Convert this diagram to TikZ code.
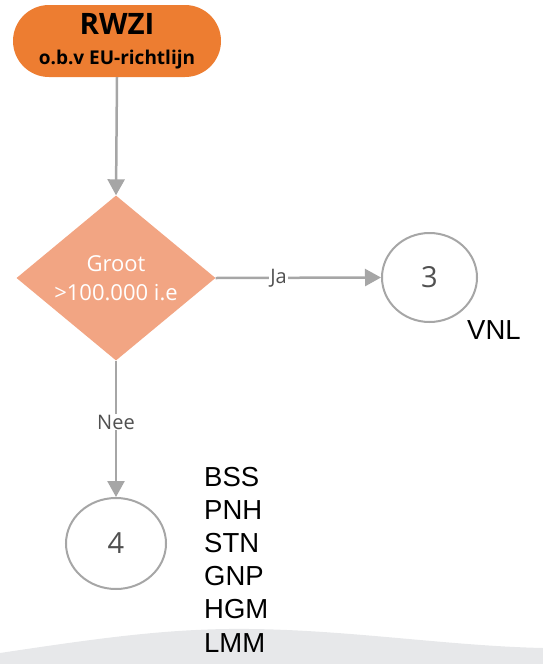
\documentclass[tikz,border=0pt]{standalone}
\usepackage{fontspec}
\setmainfont{Open Sans}
\newfontfamily\arialf{Liberation Sans}
\usetikzlibrary{shapes.geometric,arrows.meta}
\definecolor{pillorange}{HTML}{ED7D31}
\definecolor{salmon}{HTML}{F2A583}
\definecolor{linegray}{HTML}{A6A6A6}
\definecolor{darktext}{HTML}{505050}
\definecolor{wavegray}{HTML}{E7E8EA}
\tikzset{
  pill/.style={draw=none, fill=pillorange, rounded corners=36pt, minimum width=208pt, minimum height=72pt, inner sep=0pt, align=center, font=\bfseries\fontsize{19}{30}\selectfont},
  decision/.style={diamond, fill=salmon, draw=none, minimum width=199pt, minimum height=165pt, inner sep=0pt, aspect=1.206, align=center, text=white, font=\fontsize{22}{29}\selectfont},
  endcircle/.style={ellipse, draw=linegray, line width=2pt, fill=white, text=darktext, font=\fontsize{29}{32}\selectfont},
  flow/.style={draw=linegray, line width=2.5pt, -{Triangle[width=17pt,length=16pt]}},
  edgelabel/.style={fill=white, text=darktext, inner sep=1pt, font=\fontsize{20}{24}\selectfont},
  listtxt/.style={font=\arialf\fontsize{27.5}{32}\selectfont, inner sep=0pt, text=black}
}
\begin{document}
\begin{tikzpicture}[x=1pt,y=-1pt]
\useasboundingbox (0,0) rectangle (543,664);
\fill[wavegray] (0,653) .. controls (100,638) and (170,628) .. (250,629) .. controls (350,630) and (450,646) .. (543,648) -- (543,664) -- (0,664) -- cycle;
\node[pill] (rwzi) at (117,41) {{\fontsize{29.5}{30}\selectfont RWZI}\\o.b.v EU-richtlijn};
\node[decision] (groot) at (116,278) {Groot\\>100.000 i.e};
\node[endcircle, minimum width=95pt, minimum height=89pt] (c3) at (429.5,277.5) {3};
\node[endcircle, minimum width=100pt, minimum height=91pt] (c4) at (116,543.5) {4};
\draw[flow] (rwzi.south) -- (groot.north);
\draw[flow] (groot.east) -- node[edgelabel, pos=0.38] (ja) {Ja} (c3.west);
\draw[flow] (groot.south) -- node[edgelabel, pos=0.45] (nee) {Nee} (c4.north);
\node[listtxt, anchor=base west] (vnl) at (467,339) {VNL};
\foreach \t [count=\i] in {BSS,PNH,STN,GNP,HGM,LMM}
  \node[listtxt, anchor=base west] (code\i) at (204,{486+33.2*(\i-1)}) {\t};
\end{tikzpicture}
\end{document}
